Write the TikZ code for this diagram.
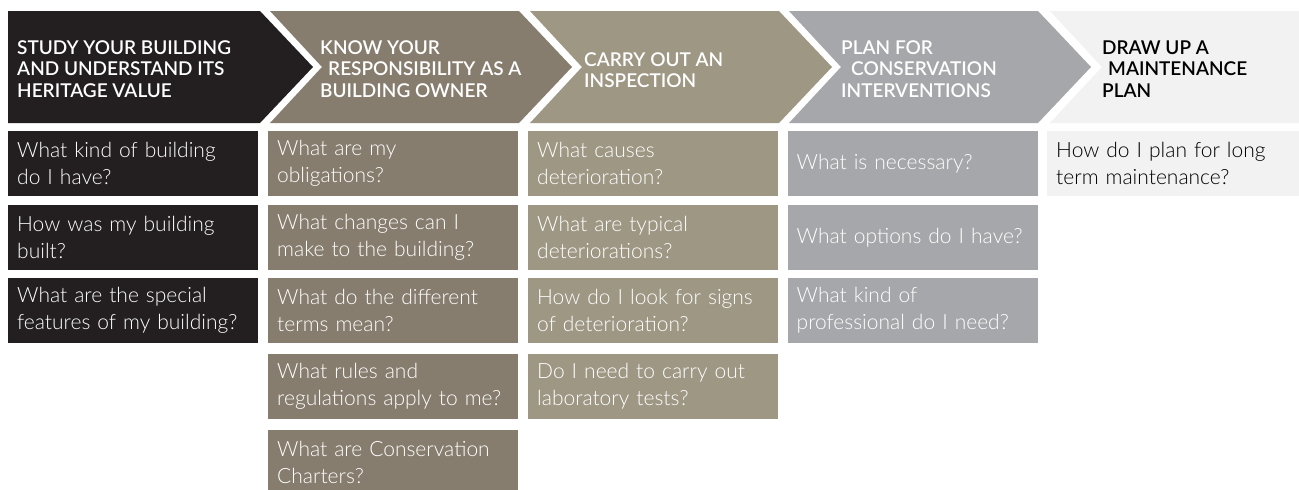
\documentclass[tikz,border=0pt]{standalone}
\usepackage{fontspec}
\setmainfont{Lato}
\newfontfamily\askfont{Lato Light}
\newfontfamily\headfont{Lato Semibold}
\definecolor{studycol}{HTML}{231F20}
\definecolor{knowcol}{HTML}{877D6E}
\definecolor{carrycol}{HTML}{9D9784}
\definecolor{plancol}{HTML}{A6A7AA}
\definecolor{drawcol}{HTML}{F2F2F2}
\tikzset{
  head/.style = {anchor=west, align=left, inner sep=0pt, text=white,
    font=\headfont\fontsize{19}{21.5}\selectfont},
  ask/.style = {anchor=north west, fill=#1, minimum height=65pt,
    text width=232pt, inner xsep=9pt, inner ysep=0pt, align=left,
    text=white, font=\askfont\fontsize{21}{27}\selectfont}
}

\begin{document}
\begin{tikzpicture}[x=1pt,y=-1pt]
  \clip (0,0) rectangle (1299,490);
  \fill[white] (0,0) rectangle (1299,490);
  % chevrons
  \fill[studycol] (8,11) -- (260,11) -- (313,67) -- (260,123) -- (8,123) -- cycle;
  \foreach \L/\c in {270/knowcol, 530/carrycol, 789/plancol} {
    \fill[\c] (\L,11) -- (\L+249,11) -- (\L+302,67) -- (\L+249,123) -- (\L,123) -- (\L+52,67) -- cycle;
  }
  \fill[drawcol] (1050,11) -- (1299,11) -- (1299,123) -- (1050,123) -- (1102,67) -- cycle;
  % step titles
  \node[head] (study) at (17,69) {STUDY YOUR BUILDING\\AND UNDERSTAND ITS\\HERITAGE VALUE};
  \node[head] (know) at (320,69) {KNOW YOUR\\\hspace*{8pt}RESPONSIBILITY AS A\\BUILDING OWNER};
  \node[head] (carry) at (584,70) {CARRY OUT AN\\INSPECTION};
  \node[head] (plan) at (841,69) {PLAN FOR\\\hspace*{10pt}CONSERVATION\\INTERVENTIONS};
  \node[head,text=black] (drawup) at (1102,69) {DRAW UP A\\\hspace*{6pt}MAINTENANCE\\PLAN};
  % questions, column 1
  \node[ask=studycol] (study1) at (8,131) {What kind of building\\do I have?};
  \node[ask=studycol] (study2) at (8,205) {How was my building\\built?};
  \node[ask=studycol] (study3) at (8,278) {What are the special\\features of my building?};
  % questions, column 2
  \node[ask=knowcol] (know1) at (268,131) {What are my\\obligations?};
  \node[ask=knowcol] (know2) at (268,205) {What changes can I\\make to the building?};
  \node[ask=knowcol] (know3) at (268,278) {What do the different\\terms mean?};
  \node[ask=knowcol] (know4) at (268,354) {What rules and\\regulations apply to me?};
  \node[ask=knowcol] (know5) at (268,430) {What are Conservation\\Charters?};
  % questions, column 3
  \node[ask=carrycol] (carry1) at (528,131) {What causes\\deterioration?};
  \node[ask=carrycol] (carry2) at (528,205) {What are typical\\deteriorations?};
  \node[ask=carrycol] (carry3) at (528,278) {How do I look for signs\\of deterioration?};
  \node[ask=carrycol] (carry4) at (528,354) {Do I need to carry out\\laboratory tests?};
  % questions, column 4
  \node[ask=plancol] (plan1) at (787.5,131) {What is necessary?};
  \node[ask=plancol] (plan2) at (787.5,205) {What options do I have?};
  \node[ask=plancol] (plan3) at (787.5,278) {What kind of\\professional do I need?};
  % questions, column 5
  \node[ask=drawcol,text=black,text width=234pt] (drawup1) at (1047,131) {How do I plan for long\\term maintenance?};
\end{tikzpicture}
\end{document}
